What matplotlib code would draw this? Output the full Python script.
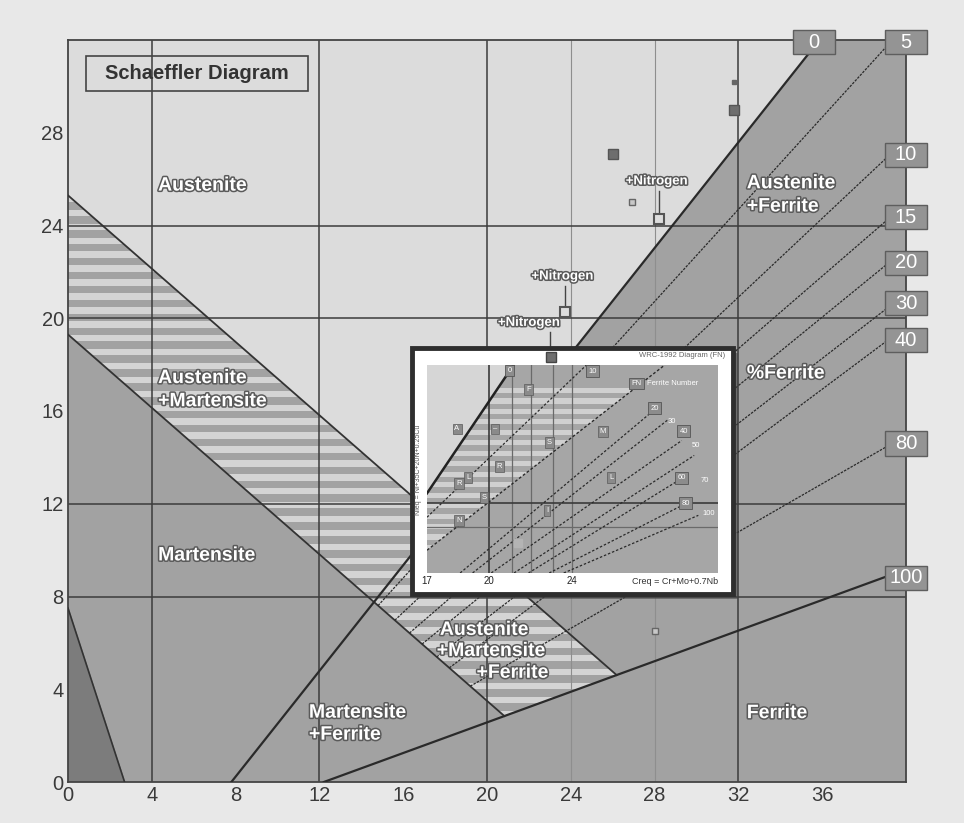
import numpy as np
import matplotlib.pyplot as plt
import matplotlib.patheffects as pe
from matplotlib.patches import Polygon, Rectangle

plt.rcParams['font.family'] = ['Liberation Sans', 'DejaVu Sans']

# %% data  (x = Cr equivalent, y = Ni equivalent)
# boundary lines as (intercept, slope)
upper_line = (25.3, -0.79)          # Austenite / A+M
lower_line = (19.3, -0.79)          # A+M / Martensite
zero_line = (-8.89, 1.14)           # 0 % ferrite
full_line = (-4.03, 0.33)           # 100 % ferrite
dark_tri_x = [0, 0, 2.7]
dark_tri_y = [0, 7.5, 0]

# iso-ferrite lines: start on lower boundary, end at x = 39.05
ferrite_pct = ['5', '10', '15', '20', '30', '40', '80']
ferrite_x0 = [14.8, 15.6, 16.3, 16.9, 17.6, 18.2, 19.2]
ferrite_y1 = [31.7, 26.9, 24.2, 22.3, 20.4, 19.0, 14.45]
ferrite_x1 = 39.05
box_labels = ['0', '5', '10', '15', '20', '30', '40', '80', '100']
box_x = [35.6, 40, 40, 40, 40, 40, 40, 40, 40]
box_y = [31.9, 31.9, 27.05, 24.35, 22.4, 20.65, 19.05, 14.6, 8.8]

region_text = ['Austenite', 'Austenite', '+Martensite', 'Martensite',
               'Martensite', '+Ferrite', 'Austenite', '+Martensite', '+Ferrite',
               'Austenite', '+Ferrite', '%Ferrite', 'Ferrite']
region_x = [4.3, 4.3, 4.3, 4.3, 11.5, 11.5, 17.75, 17.6, 19.5, 32.4, 32.4, 32.4, 32.4]
region_y = [25.7, 17.4, 16.4, 9.75, 2.97, 2.02, 6.54, 5.63, 4.69, 25.8, 24.8, 17.6, 2.95]

# weld metal points
nitro_text_x = [28.1, 23.6, 22.0]
nitro_text_y = [25.9, 21.8, 19.8]
nitro_pt_x = [28.2, 23.7]
nitro_pt_y = [24.3, 20.25]
dark_pt_x = [26.0, 31.8]
dark_pt_y = [27.1, 29.0]
light_pt_x = [26.9, 28.0]
light_pt_y = [25.0, 6.5]

# inset (WRC type diagram)
in_bold = [(17.0, 12.43), (21.18, 17.95)]
in_bound = [(17.0, 9.98), (28.48, 17.95)]
in_x0 = [17.0, 18.6, 19.2, 20.1, 21.2, 21.9, 22.9, 23.6]
in_y0 = [11.4, 9.0, 9.0, 9.0, 9.0, 9.0, 9.0, 9.0]
in_x1 = [24.7, 28.0, 28.6, 29.3, 29.9, 29.3, 29.3, 30.1]
in_y1 = [17.95, 16.04, 15.57, 14.7, 14.06, 13.07, 11.9, 11.48]
in_box_x = [20.98, 25.0, 27.1, 28.0, 29.4, 29.3, 29.5]
in_box_y = [17.72, 17.68, 17.16, 16.09, 15.1, 13.1, 12.0]
in_box_txt = ['0', '10', 'FN', '20', '40', '60', '80']
in_free_x = [28.8, 30.0, 30.4, 30.6]
in_free_y = [15.5, 14.5, 13.0, 11.57]
in_free_txt = ['30', '50', '70', '100']
in_mk_x = [18.45, 20.3, 21.9, 22.9, 20.5, 19.0, 18.55, 19.75, 18.55, 22.8, 25.5, 25.9]
in_mk_y = [15.2, 15.2, 16.9, 14.6, 13.6, 13.1, 12.85, 12.26, 11.27, 11.7, 15.1, 13.1]
in_mk_txt = ['A', '–', 'F', 'S', 'R', 'L', 'R', 'S', 'N', 'I', 'M', 'L']

GRAY = '#a2a2a2'
LIGHT = '#dcdcdc'
STRIPE = '#d4d4d4'
DARK = '#333333'


def cross(p, q):
    x = (q[0] - p[0]) / (p[1] - q[1])
    return x, p[0] + p[1] * x


def x_at(line, y):
    return (y - line[0]) / line[1]


def white_text(ax, x, y, s, size=14, **kw):
    ax.text(x, y, s, color='white', fontsize=size, fontweight='bold', va='center',
            path_effects=[pe.withStroke(linewidth=2.2, foreground='#5a5a5a')], zorder=6, **kw)


fig = plt.figure(figsize=(9.64, 8.23), dpi=100, facecolor='#e8e8e8')
ax = fig.add_axes([68 / 964, 1 - 782 / 823, 838 / 964, 742 / 823])
ax.set_facecolor(GRAY)
ax.set_xlim(0, 40)
ax.set_ylim(0, 32)

# %% regions
aus = Polygon([(0, 32), (x_at(zero_line, 32), 32), cross(zero_line, upper_line), (0, upper_line[0])],
              closed=True, facecolor=LIGHT, edgecolor='none', zorder=1)
ax.add_patch(aus)
band = Polygon([(0, upper_line[0]), cross(upper_line, full_line), cross(lower_line, full_line),
                (0, lower_line[0])], closed=True, facecolor=GRAY, edgecolor='none', zorder=1)
ax.add_patch(band)
for c in np.arange(19.14 - 0.6 * 40, 30, 0.6):
    r = ax.axhspan(c - 0.14, c + 0.14, color=STRIPE, lw=0, zorder=1.5)
    r.set_clip_path(band)
ax.fill(dark_tri_x, dark_tri_y, color='#7c7c7c', zorder=1)
ax.plot(dark_tri_x[1:], dark_tri_y[1:], color=DARK, lw=1.2, zorder=3)

# %% grid
for x in [4, 12, 20, 32]:
    ax.axvline(x, color='#3c3c3c', lw=1.1, zorder=2)
for x in [24, 28]:
    ax.axvline(x, color='#8e8e8e', lw=0.8, zorder=2)
for y in [8, 12, 20, 24]:
    ax.axhline(y, color='#3c3c3c', lw=1.1, zorder=2)

# %% boundary lines
xu = np.array([0, cross(upper_line, full_line)[0]])
ax.plot(xu, upper_line[0] + upper_line[1] * xu, color=DARK, lw=1.3, zorder=3)
xl = np.array([0, cross(lower_line, full_line)[0]])
ax.plot(xl, lower_line[0] + lower_line[1] * xl, color=DARK, lw=1.3, zorder=3)
xz = np.array([x_at(zero_line, 0), x_at(zero_line, 31.5)])
ax.plot(xz, zero_line[0] + zero_line[1] * xz, color='#2a2a2a', lw=1.6, zorder=3)
xh = np.array([x_at(full_line, 0), ferrite_x1])
ax.plot(xh, full_line[0] + full_line[1] * xh, color='#2a2a2a', lw=1.6, zorder=3)

for x0, y1 in zip(ferrite_x0, ferrite_y1):
    y0 = lower_line[0] + lower_line[1] * x0
    ax.plot([x0, ferrite_x1], [y0, y1], color='#2a2a2a', lw=0.9,
            linestyle=(0, (2, 1)), zorder=3)

for s, bx, by in zip(box_labels, box_x, box_y):
    ax.add_patch(Rectangle((bx - 1.0, by - 0.52), 2.0, 1.04, facecolor='#949494',
                           edgecolor='#5e5e5e', lw=1, zorder=7, clip_on=False))
    ax.text(bx, by, s, color='white', fontsize=14.5, ha='center', va='center', zorder=8, clip_on=False)

# %% texts
ax.add_patch(Rectangle((0.86, 29.8), 10.58, 1.5, fill=False, edgecolor='#444444', lw=1.2, zorder=6))
ax.text(6.15, 30.55, 'Schaeffler Diagram', fontsize=14.5, fontweight='bold', color='#333333',
        ha='center', va='center', zorder=6)
for s, x, y in zip(region_text, region_x, region_y):
    white_text(ax, x, y, s, ha='left')

for tx, ty in zip(nitro_text_x, nitro_text_y):
    white_text(ax, tx, ty, '+Nitrogen', size=9.5, ha='center')
ax.plot([28.2, 28.2], [25.5, 24.5], color='#444444', lw=1, zorder=5)
ax.plot([23.7, 23.7], [21.4, 20.45], color='#444444', lw=1, zorder=5)
ax.plot([23.0, 23.0], [19.4, 18.5], color='#444444', lw=1, zorder=5)
ax.plot(nitro_pt_x, nitro_pt_y, 's', ms=7, mfc='#dddddd', mec='#555555', mew=1.5, ls='none', zorder=5)
ax.plot(dark_pt_x, dark_pt_y, 's', ms=7, mfc='#6e6e6e', mec='#555555', ls='none', zorder=5)
ax.plot(light_pt_x, light_pt_y, 's', ms=5, mfc='#c8c8c8', mec='#666666', ls='none', zorder=5)
ax.plot([31.8], [30.2], 's', ms=2.5, color='#666666', zorder=5)

ax.set_xticks(range(0, 37, 4))
ax.set_yticks(range(0, 29, 4))
ax.tick_params(length=0, labelsize=14.5, labelcolor='#3a3a3a', pad=3)
for sp in ax.spines.values():
    sp.set_color('#444444')
    sp.set_linewidth(1.3)

# %% inset
fx0, fy0, fw, fh = 412 / 964, 1 - 594 / 823, 321 / 964, 246 / 823
fig.add_artist(Rectangle((fx0 + 0.005, fy0 - 0.006), fw, fh, transform=fig.transFigure,
                         facecolor='#444444', alpha=0.55, zorder=4))
fig.add_artist(Rectangle((fx0, fy0), fw, fh, transform=fig.transFigure,
                         facecolor='white', edgecolor='#2e2e2e', lw=3.5, zorder=5))
ia = fig.add_axes([427 / 964, 1 - 573 / 823, 291 / 964, 208 / 823], zorder=6)
ia.set_facecolor('#a6a6a6')
ia.set_xlim(17, 31.05)
ia.set_ylim(9, 17.95)
ia.add_patch(Polygon([(17, 17.95), in_bold[1], in_bold[0]], facecolor='#d6d6d6', edgecolor='none', zorder=1))
iband = Polygon([in_bold[0], in_bold[1], in_bound[1], in_bound[0]], facecolor='#a6a6a6',
                edgecolor='none', zorder=1)
ia.add_patch(iband)
for c in np.arange(9.2, 17.1, 0.45):
    r = ia.axhspan(c - 0.11, c + 0.11, color='#d0d0d0', lw=0, zorder=1.5)
    r.set_clip_path(iband)
for x in [20.0]:
    ia.axvline(x, color='#3a3a3a', lw=1.2, zorder=2)
for x in [21.1, 22.0, 23.08, 24.0]:
    ia.axvline(x, color='#6a6a6a', lw=0.9, zorder=2)
ia.axhline(12.0, color='#3a3a3a', lw=1.2, zorder=2)
ia.axhline(11.0, color='#6a6a6a', lw=0.9, zorder=2)
ia.plot(*zip(*in_bold), color='#222222', lw=1.8, zorder=3)
ia.plot(*zip(*in_bound), color='#2a2a2a', lw=1, ls=(0, (2, 1.5)), zorder=3)
for x0, y0, x1, y1 in zip(in_x0, in_y0, in_x1, in_y1):
    ia.plot([x0, x1], [y0, y1], color='#2a2a2a', lw=0.9, ls=(0, (2, 1.5)), zorder=3)
for s, bx, by in zip(in_box_txt, in_box_x, in_box_y):
    ia.text(bx, by, s, fontsize=5.5, color='white', ha='center', va='center', zorder=5,
            bbox=dict(boxstyle='square,pad=0.3', facecolor='#8c8c8c', edgecolor='#555555', lw=0.6))
ia.text(27.6, 17.16, 'Ferrite Number', fontsize=5.5, color='white', ha='left', va='center', zorder=5)
for s, x, y in zip(in_free_txt, in_free_x, in_free_y):
    ia.text(x, y, s, fontsize=5.5, color='white', ha='center', va='center', zorder=5)
for s, x, y in zip(in_mk_txt, in_mk_x, in_mk_y):
    ia.text(x, y, s, fontsize=5.5, color='white', ha='center', va='center', zorder=5,
            bbox=dict(boxstyle='square,pad=0.25', facecolor='#8a8a8a', edgecolor='#5a5a5a', lw=0.5))
ia.plot([21.4], [10.3], 's', ms=6, color='#b4b4b4', zorder=4)
ia.plot([23.0], [18.3], 's', ms=7, mfc='#6e6e6e', mec='#444444', clip_on=False, zorder=7)
ia.set_xticks([17, 20, 24])
ia.tick_params(length=0, labelsize=7, labelcolor='#222222', pad=2)
ia.set_yticks([])
for sp in ia.spines.values():
    sp.set_visible(False)
fig.text(718 / 964, 1 - 581 / 823, 'Creq = Cr+Mo+0.7Nb', fontsize=6.5, color='#333333',
         ha='right', va='center', zorder=8)
fig.text(725 / 964, 1 - 356 / 823, 'WRC-1992 Diagram (FN)', fontsize=5.5, color='#666666',
         ha='right', va='center', zorder=8)
fig.text(419 / 964, 1 - 470 / 823, 'Nieq = Ni+35C+20N+0.25Cu', fontsize=5, color='#555555',
         ha='center', va='center', rotation=90, zorder=8)

fig.savefig('out.png', dpi=100, facecolor=fig.get_facecolor())
